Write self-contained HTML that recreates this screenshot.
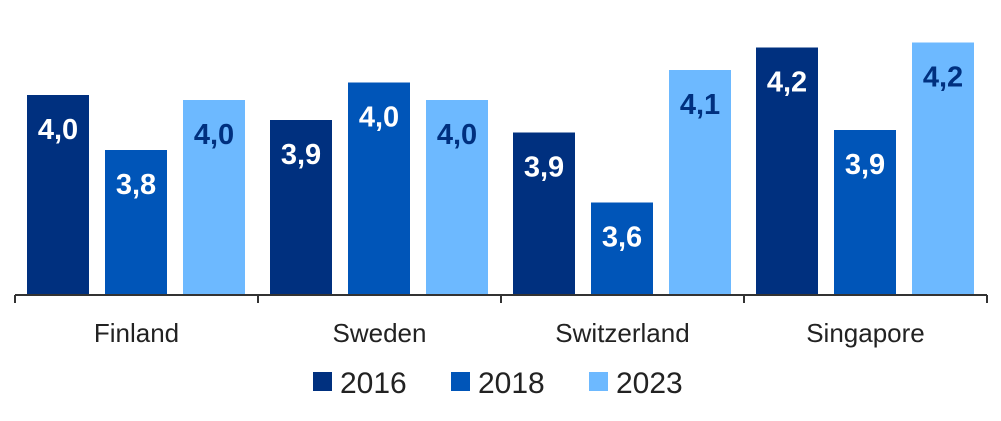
<!DOCTYPE html>
<html><head><meta charset="utf-8"><style>
body{margin:0;background:#fff;width:1001px;height:416px;overflow:hidden;font-family:"Liberation Sans",sans-serif}
</style></head><body>
<svg id="chart" width="1001" height="416" xmlns="http://www.w3.org/2000/svg"></svg>
<script>
const categories=["Finland","Sweden","Switzerland","Singapore"];
const years=["2016","2018","2023"];
const values2016=[4.0,3.9,3.85,4.19];
const values2018=[3.78,4.05,3.57,3.86];
const values2023=[3.98,3.98,4.1,4.21];
const series=[values2016,values2018,values2023];
const colors=["#00307f","#0055b8","#6db9ff"];
const labelColors=["#fff","#fff","#00307f"];
const svg=document.getElementById('chart');
const NS="http://www.w3.org/2000/svg";
const x0=15,groupW=243,base=295,yMin=3.2,pxPerUnit=250;
const y=v=>base-(v-yMin)*pxPerUnit;
function mk(t,a){const e=document.createElementNS(NS,t);for(const k in a)e.setAttribute(k,a[k]);svg.appendChild(e);return e;}
categories.forEach((c,i)=>{
  series.forEach((s,j)=>{
    const bx=x0+i*groupW+12+j*78, top=y(s[i]);
    const r=mk('rect',{x:bx,y:top,width:62,height:base-top,fill:colors[j]});
    
    
    const t=mk('text',{x:bx+31,y:top+44,'text-anchor':'middle','font-size':29,'font-weight':'bold',fill:labelColors[j]});
    t.textContent=s[i].toFixed(1).replace('.',',');
    
    
  });
  const l=mk('text',{x:x0+i*groupW+groupW/2,y:342,'text-anchor':'middle','font-size':26,fill:'#222'});
  l.textContent=c;
  
  
});
const ax=mk('line',{x1:x0,x2:x0+4*groupW,y1:base,y2:base,stroke:'#333','stroke-width':2});


for(let i=0;i<=4;i++){
  const tk=mk('line',{x1:x0+i*groupW,x2:x0+i*groupW,y1:base,y2:base+8,stroke:'#333','stroke-width':2});
  
  
}
years.forEach((yr,j)=>{
  const lx=313+j*138;
  const sq=mk('rect',{x:lx,y:372,width:19,height:19,fill:colors[j]});
  
  
  const lt=mk('text',{x:lx+27,y:393,'font-size':30,fill:'#222'});
  lt.textContent=yr;
  
  
});
</script>
</body></html>
